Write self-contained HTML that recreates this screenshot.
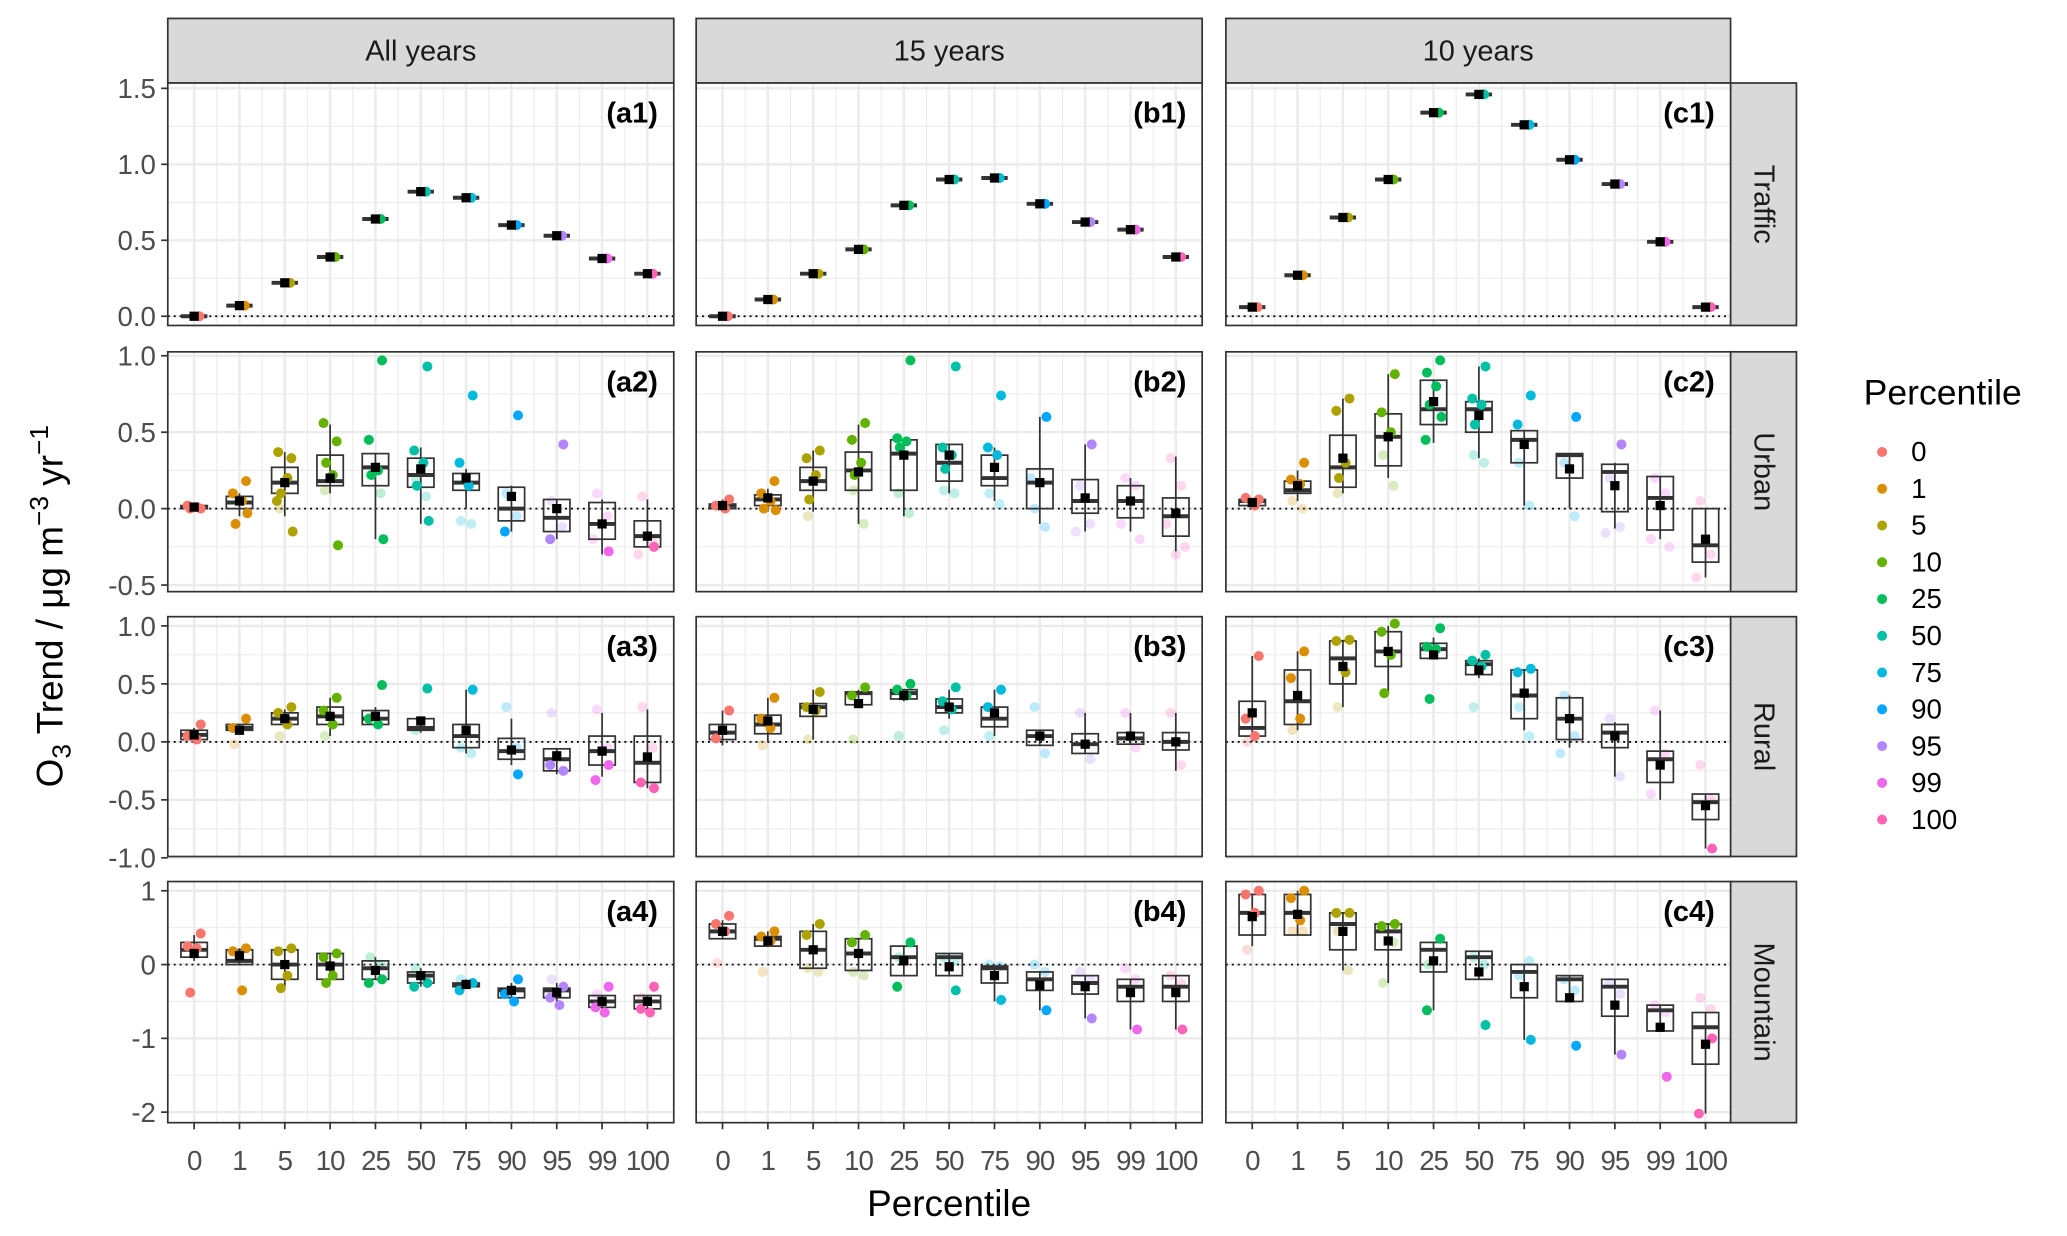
<!DOCTYPE html>
<html><head><meta charset="utf-8"><style>
html,body{margin:0;padding:0;background:#fff;}
svg{display:block;font-family:"Liberation Sans",Arial,sans-serif;}
</style></head><body>
<svg id="chart" width="2067" height="1236" viewBox="0 0 1568 938" xmlns="http://www.w3.org/2000/svg"></svg>
<script>
const categories=["0","1","5","10","25","50","75","90","95","99","100"];
const colors=["#F8766D","#DB8E00","#AEA200","#64B200","#00BD5C","#00C1A7","#00BADE","#00A6FF","#B385FF","#EF67EB","#FF63B6"];
const colTitles=["All years","15 years","10 years"];
const rowTitles=["Traffic","Urban","Rural","Mountain"];
const rowTicks=[[0,0.5,1.0,1.5],[-0.5,0,0.5,1.0],[-1.0,-0.5,0,0.5,1.0],[-2,-1,0,1]];
const rowTickLabels=[["0.0","0.5","1.0","1.5"],["-0.5","0.0","0.5","1.0"],["-1.0","-0.5","0.0","0.5","1.0"],["-2","-1","0","1"]];
const rowMinor=[[0.25,0.75,1.25],[-0.25,0.25,0.75],[-0.75,-0.25,0.25,0.75],[-1.5,-0.5,0.5]];
const traffic_a=[0,0.07,0.22,0.39,0.64,0.82,0.78,0.60,0.53,0.38,0.28];
const traffic_b=[0,0.11,0.28,0.44,0.73,0.90,0.91,0.74,0.62,0.57,0.39];
const traffic_c=[0.06,0.27,0.65,0.90,1.34,1.46,1.26,1.03,0.87,0.49,0.06];
const box_a2=[[0,0,0.01,0.02,0.02],[-0.05,0,0.04,0.08,0.1],[-0.05,0.1,0.17,0.27,0.37],[0.1,0.15,0.18,0.35,0.55],[-0.2,0.15,0.27,0.36,0.36],[-0.1,0.14,0.22,0.33,0.4],[0,0.12,0.17,0.23,0.26],[-0.15,-0.08,0,0.14,0.15],[-0.2,-0.15,-0.06,0.06,0.06],[-0.3,-0.2,-0.1,0.04,0.06],[-0.25,-0.25,-0.18,-0.08,0.06]];
const mean_a2=[0.01,0.05,0.17,0.2,0.27,0.26,0.2,0.08,0,-0.1,-0.18];
const pts_a2=[[0,0.02,0.01,0],[0.18,0.1,0.05,-0.1,-0.03],[0.33,0.37,0.2,0.1,-0.15,0.05],[0.44,0.56,0.22,0.3,-0.24],[0.97,0.45,0.25,0.22,-0.2],[0.93,0.38,0.3,0.15,-0.08],[0.74,0.3,0.15],[0.61,-0.15],[0.42,-0.2],[-0.28],[-0.25]];
const faint_a2=[[],[],[0.0],[0.12],[0.22,0.1],[0.2,0.08],[-0.08,-0.1],[0.1,-0.05],[0.05,-0.12],[0.1,-0.05,-0.2],[0.08,-0.22,-0.3]];
const box_b2=[[0,0,0.02,0.03,0.06],[-0.02,0.02,0.06,0.09,0.13],[-0.02,0.12,0.18,0.27,0.38],[-0.1,0.12,0.25,0.37,0.55],[-0.05,0.12,0.36,0.45,0.45],[0.1,0.18,0.3,0.42,0.42],[0.05,0.15,0.2,0.35,0.4],[-0.1,0,0.17,0.26,0.6],[-0.15,-0.03,0.05,0.19,0.42],[-0.15,-0.06,0.05,0.15,0.2],[-0.28,-0.18,-0.05,0.07,0.34]];
const mean_b2=[0.02,0.07,0.18,0.24,0.35,0.35,0.27,0.17,0.07,0.05,-0.03];
const pts_b2=[[0.06,0.02,0],[0.18,0.1,0.05,0,-0.01],[0.38,0.33,0.22,0.06],[0.56,0.45,0.3,0.22],[0.97,0.46,0.44,0.4],[0.93,0.4,0.35,0.26],[0.74,0.4,0.35],[0.6],[0.42],[],[]];
const faint_b2=[[],[],[-0.05],[0.12,-0.1],[0.1,-0.03],[0.12,0.1],[0.1,0.03],[0.0,-0.12,0.2],[0.15,-0.1,-0.15],[0.2,0.15,-0.1,-0.2],[0.33,0.15,-0.1,-0.25,-0.3]];
const box_c2=[[0.01,0.02,0.05,0.06,0.07],[0.05,0.1,0.12,0.18,0.25],[0.1,0.14,0.27,0.48,0.72],[0.2,0.28,0.47,0.62,0.88],[0.43,0.55,0.65,0.84,0.84],[0.33,0.5,0.65,0.7,0.93],[0.02,0.3,0.45,0.51,0.51],[0,0.2,0.35,0.36,0.36],[-0.13,-0.02,0.24,0.29,0.3],[-0.2,-0.14,0.07,0.21,0.21],[-0.45,-0.35,-0.24,0,0]];
const mean_c2=[0.04,0.15,0.33,0.47,0.7,0.61,0.42,0.26,0.15,0.02,-0.2];
const pts_c2=[[0.06,0.07,0.02],[0.3,0.19,0.16],[0.72,0.64,0.3,0.2],[0.88,0.63,0.5],[0.97,0.89,0.8,0.68,0.6,0.45],[0.93,0.72,0.68,0.55],[0.74,0.55],[0.6],[0.42],[],[]];
const faint_c2=[[],[0.05,0.0],[0.1],[0.35,0.15],[],[0.35,0.3],[0.3,0.02],[0.3,-0.05],[0.2,-0.12,-0.16],[0.2,0.1,-0.2,-0.25],[0.05,-0.3,-0.45]];
const box_a3=[[0,0.02,0.06,0.1,0.12],[0.08,0.1,0.12,0.15,0.15],[0.12,0.15,0.2,0.25,0.28],[0.05,0.15,0.22,0.3,0.38],[0.12,0.15,0.2,0.27,0.3],[0.08,0.1,0.12,0.2,0.22],[-0.1,-0.05,0.05,0.15,0.45],[-0.2,-0.15,-0.08,0.03,0.2],[-0.28,-0.25,-0.15,-0.06,-0.06],[-0.3,-0.2,-0.08,0.05,0.25],[-0.4,-0.35,-0.18,0.05,0.28]];
const mean_a3=[0.06,0.1,0.2,0.22,0.22,0.18,0.1,-0.07,-0.12,-0.08,-0.13];
const pts_a3=[[0.15,0.05,0.02],[0.2,0.12],[0.3,0.25,0.15],[0.38,0.27,0.15],[0.49,0.2,0.15],[0.46],[0.45],[-0.28],[-0.25,-0.2],[-0.2,-0.33],[-0.4,-0.35]];
const faint_a3=[[],[-0.02],[0.05],[0.05],[],[0.1],[-0.05,-0.1],[0.3,-0.05],[0.25],[0.28,-0.05],[0.3,-0.05]];
const box_b3=[[-0.03,0.02,0.08,0.15,0.27],[0,0.07,0.15,0.23,0.38],[0.02,0.22,0.3,0.33,0.45],[0.3,0.32,0.42,0.43,0.45],[0.35,0.37,0.42,0.45,0.45],[0.2,0.25,0.3,0.37,0.45],[0.05,0.13,0.2,0.3,0.45],[-0.03,-0.03,0.05,0.1,0.1],[-0.1,-0.1,-0.02,0.07,0.25],[-0.02,-0.02,0.03,0.08,0.25],[-0.25,-0.07,0,0.08,0.25]];
const mean_b3=[0.1,0.18,0.28,0.33,0.4,0.3,0.25,0.05,-0.02,0.05,0];
const pts_b3=[[0.27,0.03],[0.38,0.2,0.12],[0.43,0.3,0.27],[0.47,0.4],[0.5,0.45,0.4],[0.47,0.35,0.28],[0.45,0.3],[],[],[],[]];
const faint_b3=[[],[-0.03],[0.02],[0.02],[0.05],[0.1],[0.05],[0.3,-0.1],[0.25,-0.15],[0.25,-0.05],[0.25,-0.2]];
const box_c3=[[0,0.05,0.12,0.35,0.74],[0.1,0.15,0.35,0.62,0.78],[0.3,0.5,0.72,0.87,0.88],[0.42,0.65,0.78,0.95,1.0],[0.72,0.72,0.8,0.85,0.9],[0.55,0.58,0.67,0.7,0.72],[0.1,0.2,0.4,0.62,0.62],[-0.05,0.02,0.2,0.38,0.4],[-0.3,-0.05,0.08,0.15,0.17],[-0.5,-0.35,-0.15,-0.08,0.27],[-0.92,-0.67,-0.52,-0.45,-0.45]];
const mean_c3=[0.25,0.4,0.65,0.78,0.75,0.62,0.42,0.2,0.05,-0.2,-0.55];
const pts_c3=[[0.74,0.2,0.05],[0.78,0.55,0.2],[0.88,0.87,0.6],[1.02,0.95,0.75,0.42],[0.98,0.82,0.8,0.37],[0.75,0.7,0.65],[0.63,0.6],[],[],[],[-0.92]];
const faint_c3=[[0.0],[0.1],[0.3],[],[],[0.3],[0.3,0.05],[0.4,0.05,-0.1],[0.2,-0.3],[0.27,-0.1,-0.45],[-0.2,-0.5]];
const box_a4=[[0.05,0.1,0.2,0.3,0.4],[0,0,0.05,0.2,0.22],[-0.3,-0.2,0,0.2,0.2],[-0.2,-0.2,0,0.15,0.15],[-0.2,-0.2,-0.05,0.05,0.1],[-0.3,-0.25,-0.15,-0.1,-0.05],[-0.3,-0.3,-0.27,-0.25,-0.2],[-0.45,-0.45,-0.35,-0.32,-0.25],[-0.5,-0.45,-0.35,-0.32,-0.25],[-0.62,-0.58,-0.5,-0.42,-0.42],[-0.6,-0.6,-0.5,-0.42,-0.42]];
const mean_a4=[0.15,0.12,0,-0.02,-0.08,-0.15,-0.27,-0.35,-0.38,-0.5,-0.5];
const pts_a4=[[0.42,0.25,0.22,-0.38],[0.22,0.18,-0.35],[0.22,0.18,-0.15,-0.32],[0.15,0.1,-0.15,-0.25],[-0.2,-0.25],[-0.25,-0.3],[-0.25,-0.35],[-0.2,-0.4,-0.5],[-0.3,-0.45,-0.55],[-0.3,-0.58,-0.65],[-0.3,-0.6,-0.65]];
const faint_a4=[[],[],[],[],[0.1,0.0],[-0.05],[-0.2],[],[-0.2],[-0.4],[-0.45]];
const box_b4=[[0.35,0.35,0.45,0.55,0.6],[0.25,0.25,0.35,0.38,0.45],[-0.05,-0.05,0.2,0.45,0.55],[-0.08,-0.08,0.15,0.35,0.35],[-0.15,-0.15,0.1,0.25,0.25],[-0.15,-0.15,0.1,0.15,0.15],[-0.5,-0.25,-0.05,-0.02,-0.02],[-0.62,-0.35,-0.2,-0.1,-0.1],[-0.73,-0.4,-0.25,-0.15,-0.15],[-0.88,-0.5,-0.3,-0.2,-0.2],[-0.88,-0.5,-0.3,-0.15,-0.15]];
const mean_b4=[0.45,0.32,0.2,0.15,0.05,-0.03,-0.15,-0.28,-0.3,-0.38,-0.38];
const pts_b4=[[0.66,0.55,0.45],[0.45,0.38,0.32],[0.55,0.4],[0.4,0.3],[0.3,-0.3],[-0.35],[-0.48],[-0.62],[-0.73],[-0.88],[-0.88]];
const faint_b4=[[0.02],[-0.1],[-0.05,-0.1],[-0.1,-0.15],[0.1],[0.1,0.05],[0.0,-0.02],[0.0,-0.1],[-0.1,-0.2],[-0.05,-0.2],[-0.15,-0.25]];
const box_c4=[[0.25,0.4,0.7,0.95,0.95],[0.4,0.4,0.7,0.95,1.0],[-0.08,0.2,0.55,0.7,0.7],[-0.25,0.2,0.45,0.55,0.55],[-0.62,-0.1,0.2,0.3,0.3],[-0.2,-0.2,0.1,0.18,0.18],[-1.02,-0.45,-0.1,0,0],[-0.5,-0.5,-0.2,-0.15,-0.15],[-1.22,-0.7,-0.3,-0.2,-0.2],[-0.9,-0.9,-0.62,-0.55,-0.55],[-2.02,-1.35,-0.85,-0.65,-0.65]];
const mean_c4=[0.65,0.68,0.45,0.32,0.05,-0.1,-0.3,-0.45,-0.55,-0.85,-1.08];
const pts_c4=[[1.0,0.95,0.7],[1.0,0.9,0.6],[0.7,0.7],[0.55,0.52],[0.35,-0.62],[-0.82],[-1.02],[-1.1],[-1.22],[-1.52],[-1.0,-2.02]];
const faint_c4=[[0.2],[0.45,0.45],[0.45,-0.08],[-0.25,0.3],[0.0],[0.1,0.0],[-0.15,0.05],[-0.2,-0.35],[-0.25,-0.4],[-0.55,-0.65],[-0.45,-0.6]];

const NS="http://www.w3.org/2000/svg";
const svg=document.getElementById('chart');
function mk(tag,attrs,parent){const e=document.createElementNS(NS,tag);for(const k in attrs)e.setAttribute(k,attrs[k]);(parent||svg).appendChild(e);return e;}
const colX=[[127,511],[528,912],[930,1313]];
const rowY=[[63,247],[267,449],[468,650],[669,852]];
const rowZero=[240,386,563,732];
const rowScale=[115.3,116,88,56];
function yS(r,v){return rowZero[r]-v*rowScale[r];}
function xS(c,i){return colX[c][0]+20+i*34.4;}
const panels=[[traffic_a,box_a2,box_a3,box_a4],[traffic_b,box_b2,box_b3,box_b4],[traffic_c,box_c2,box_c3,box_c4]];
const means=[[traffic_a,mean_a2,mean_a3,mean_a4],[traffic_b,mean_b2,mean_b3,mean_b4],[traffic_c,mean_c2,mean_c3,mean_c4]];
const pts=[[null,pts_a2,pts_a3,pts_a4],[null,pts_b2,pts_b3,pts_b4],[null,pts_c2,pts_c3,pts_c4]];
const faint=[[null,faint_a2,faint_a3,faint_a4],[null,faint_b2,faint_b3,faint_b4],[null,faint_c2,faint_c3,faint_c4]];
const letters=["a","b","c"];
const jit=[5,-5,2,-3,6,-6,1];
const jitF=[-4,4,-7,7,0];

for(let c=0;c<3;c++){
  const g=mk('g',{});
  
  
  mk('rect',{x:colX[c][0],y:14,width:colX[c][1]-colX[c][0],height:49,fill:'#D9D9D9',stroke:'#333','stroke-width':1.3},g);
  const t=mk('text',{x:(colX[c][0]+colX[c][1])/2,y:46,'text-anchor':'middle','font-size':22,fill:'#1A1A1A'},g);t.textContent=colTitles[c];
}
for(let r=0;r<4;r++){
  const g=mk('g',{});
  
  
  mk('rect',{x:1313,y:rowY[r][0],width:50,height:rowY[r][1]-rowY[r][0],fill:'#D9D9D9',stroke:'#333','stroke-width':1.3},g);
  const cy=(rowY[r][0]+rowY[r][1])/2;
  const t=mk('text',{x:1338,y:cy,'text-anchor':'middle','dominant-baseline':'central','font-size':22,fill:'#1A1A1A',transform:`rotate(90 1338 ${cy})`},g);t.textContent=rowTitles[r];
}
for(let r=0;r<4;r++){
  rowTicks[r].forEach((v,k)=>{
    const y=yS(r,v);
    mk('line',{x1:122,x2:127,y1:y,y2:y,stroke:'#333','stroke-width':1.3});
    const t=mk('text',{x:118,y:y+7.5,'text-anchor':'end','font-size':21,fill:'#4D4D4D'});
    
    
    t.textContent=rowTickLabels[r][k];
  });
}
for(let c=0;c<3;c++){
  categories.forEach((cat,i)=>{
    const x=xS(c,i);
    mk('line',{x1:x,x2:x,y1:852,y2:857,stroke:'#333','stroke-width':1.3});
    const t=mk('text',{x:x,y:888,'text-anchor':'middle','font-size':21,fill:'#4D4D4D','letter-spacing':'-0.8'});
    
    
    t.textContent=cat;
  });
}
for(let c=0;c<3;c++){for(let r=0;r<4;r++){
  const g=mk('g',{});
  
  
  const x0=colX[c][0],x1=colX[c][1],y0=rowY[r][0],y1=rowY[r][1];
  mk('rect',{x:x0,y:y0,width:x1-x0,height:y1-y0,fill:'#fff'},g);
  rowMinor[r].forEach(v=>mk('line',{x1:x0,x2:x1,y1:yS(r,v),y2:yS(r,v),stroke:'#EBEBEB','stroke-width':0.8},g));
  for(let i=0;i<categories.length-1;i++){const xm=(xS(c,i)+xS(c,i+1))/2;mk('line',{x1:xm,x2:xm,y1:y0,y2:y1,stroke:'#EBEBEB','stroke-width':0.8},g);}
  rowTicks[r].forEach(v=>mk('line',{x1:x0,x2:x1,y1:yS(r,v),y2:yS(r,v),stroke:'#EBEBEB','stroke-width':1.8},g));
  categories.forEach((_,i)=>mk('line',{x1:xS(c,i),x2:xS(c,i),y1:y0,y2:y1,stroke:'#EBEBEB','stroke-width':1.8},g));
  mk('line',{x1:x0,x2:x1,y1:yS(r,0),y2:yS(r,0),stroke:'#000','stroke-width':1.3,'stroke-dasharray':'1.5 3'},g);
  categories.forEach((_,i)=>{
    const x=xS(c,i);
    if(r===0){
      const v=panels[c][0][i];
      const b=mk('line',{x1:x-10,x2:x+10,y1:yS(r,v),y2:yS(r,v),stroke:'#333','stroke-width':3},g);
      
      
      const p=mk('circle',{cx:x+4,cy:yS(r,v),r:3.8,fill:colors[i]},g);
      
      
    }else{
      faint[c][r][i].forEach((v,k)=>{
        const p=mk('circle',{cx:x+jitF[k%jitF.length],cy:yS(r,v),r:3.8,fill:colors[i],'fill-opacity':0.25},g);
        
        
      });
      const bx=panels[c][r][i];
      mk('line',{x1:x,x2:x,y1:yS(r,bx[0]),y2:yS(r,bx[4]),stroke:'#333','stroke-width':1.3},g);
      const b=mk('rect',{x:x-10,y:yS(r,bx[3]),width:20,height:Math.max(1,yS(r,bx[1])-yS(r,bx[3])),fill:'none',stroke:'#333','stroke-width':1.3},g);
      
      
      mk('line',{x1:x-10,x2:x+10,y1:yS(r,bx[2]),y2:yS(r,bx[2]),stroke:'#333','stroke-width':3},g);
      pts[c][r][i].forEach((v,k)=>{
        const p=mk('circle',{cx:x+jit[k%jit.length],cy:yS(r,v),r:3.8,fill:colors[i]},g);
        
        
      });
    }
    const m=means[c][r][i];
    const s=mk('rect',{x:x-3.5,y:yS(r,m)-3.5,width:7,height:7,fill:'#000'},g);
    
    
  });
  mk('rect',{x:x0,y:y0,width:x1-x0,height:y1-y0,fill:'none',stroke:'#333','stroke-width':1.3},g);
  const lab=mk('text',{x:x1-12,y:y0+30,'text-anchor':'end','font-size':22,'font-weight':'bold',fill:'#000'},g);
  
  
  lab.textContent='('+letters[c]+(r+1)+')';
}}
const xt=mk('text',{x:720,y:923,'text-anchor':'middle','font-size':28,fill:'#000'});


xt.textContent='Percentile';
const yt=mk('text',{x:0,y:0,'text-anchor':'middle','font-size':28,fill:'#000',transform:'translate(47 460) rotate(-90)'});


yt.innerHTML='O<tspan font-size="20" dy="6">3</tspan><tspan dy="-6"> Trend / μg m</tspan><tspan font-size="20" dy="-11">−3</tspan><tspan dy="11"> yr</tspan><tspan font-size="20" dy="-11">−1</tspan>';
const lg=mk('g',{});


const lt=mk('text',{x:1414,y:307,'font-size':27,fill:'#000'},lg);lt.textContent='Percentile';
categories.forEach((cat,i)=>{
  const y=343+i*27.9;
  const e=mk('g',{},lg);
  
  
  mk('circle',{cx:1428,cy:y,r:3.8,fill:colors[i]},e);
  const t=mk('text',{x:1450,y:y+7,'font-size':21,fill:'#000'},e);t.textContent=cat;
});
</script>
</body></html>
